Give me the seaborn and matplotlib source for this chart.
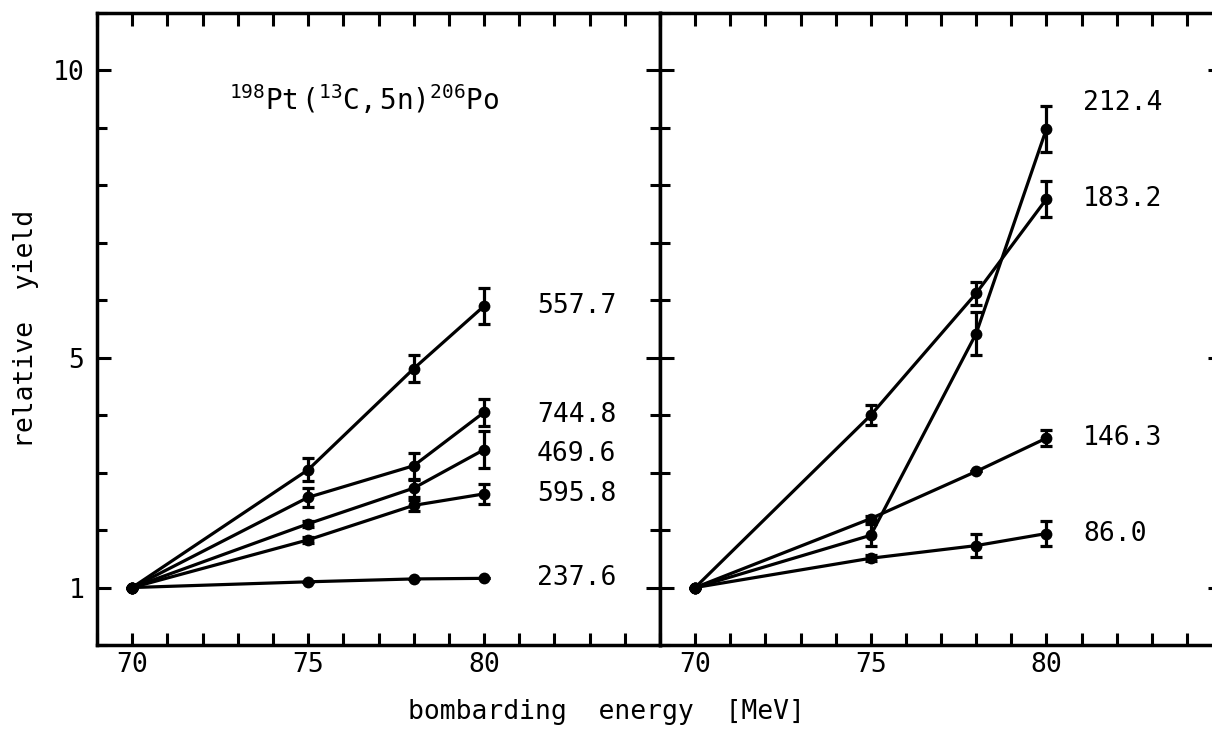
import matplotlib
matplotlib.use("Agg")
import matplotlib.pyplot as plt
import seaborn as sns
import pandas as pd
from matplotlib.ticker import MultipleLocator, FixedLocator

# ---- data ----
energies = [70, 75, 78, 80]

left_labels = ["557.7", "744.8", "469.6", "595.8", "237.6"]
left_values = [
    [1.00, 3.05, 4.81, 5.90],
    [1.00, 2.57, 3.12, 4.05],
    [1.00, 2.11, 2.73, 3.40],
    [1.00, 1.83, 2.43, 2.63],
    [1.00, 1.10, 1.15, 1.16],
]
left_errors = [
    [0.0, 0.20, 0.23, 0.32],
    [0.0, 0.16, 0.23, 0.23],
    [0.0, 0.05, 0.15, 0.32],
    [0.0, 0.05, 0.10, 0.17],
    [0.0, 0.00, 0.00, 0.00],
]

right_labels = ["212.4", "183.2", "146.3", "86.0"]
right_values = [
    [1.00, 1.91, 5.42, 8.98],
    [1.00, 4.00, 6.12, 7.76],
    [1.00, 2.20, 3.02, 3.60],
    [1.00, 1.51, 1.73, 1.94],
]
right_errors = [
    [0.0, 0.19, 0.37, 0.40],
    [0.0, 0.17, 0.20, 0.31],
    [0.0, 0.05, 0.00, 0.14],
    [0.0, 0.05, 0.20, 0.22],
]

y_ticks = [1, 5, 10]
x_ticks = [70, 75, 80]
reaction = r"$^{198}\mathrm{Pt}\,(^{13}\mathrm{C,5n})^{206}\mathrm{Po}$"


def to_frame(labels, values, errors):
    rows = []
    for lab, vals, errs in zip(labels, values, errors):
        for e, v, s in zip(energies, vals, errs):
            rows.append({"line": lab, "energy": e, "yield": v, "err": s})
    return pd.DataFrame(rows)


df_left = to_frame(left_labels, left_values, left_errors)
df_right = to_frame(right_labels, right_values, right_errors)

sns.set_theme(style="ticks")
plt.rcParams["font.family"] = ["DejaVu Sans Mono", "DejaVu Sans"]
plt.rcParams["mathtext.fontset"] = "custom"
plt.rcParams["mathtext.rm"] = "DejaVu Sans Mono"
plt.rcParams["mathtext.it"] = "DejaVu Sans Mono"
plt.rcParams["text.color"] = "black"
plt.rcParams["axes.labelcolor"] = "black"

W, H = 1212, 741
fig = plt.figure(figsize=(W / 100, H / 100), dpi=100)
bottom = (H - 645) / H
height = (645 - 13) / H
ax1 = fig.add_axes([97 / W, bottom, (660 - 97) / W, height])
ax2 = fig.add_axes([660 / W, bottom, (1222 - 660) / W, height])

FS = 19
LW = 2.3


def draw(ax, df, labels, label_dx, label_dy):
    pal = {lab: "black" for lab in labels}
    sns.lineplot(data=df, x="energy", y="yield", hue="line", palette=pal,
                 marker="o", markersize=8.5, markeredgewidth=0, linewidth=LW,
                 legend=False, ax=ax, errorbar=None, sort=False)
    for lab in labels:
        sub = df[df["line"] == lab]
        ax.errorbar(sub["energy"], sub["yield"], yerr=sub["err"], fmt="none",
                    ecolor="black", elinewidth=2.3, capsize=4, capthick=2.3)
        last = sub.iloc[-1]
        ax.text(last["energy"] + label_dx, last["yield"] + label_dy.get(lab, 0.0),
                lab, fontsize=FS, ha="left", va="center", color="black")
    ax.set_xlim(69, 85)
    ax.set_ylim(0, 11)
    ax.xaxis.set_major_locator(FixedLocator(x_ticks))
    ax.xaxis.set_minor_locator(MultipleLocator(1))
    ax.yaxis.set_major_locator(FixedLocator(y_ticks))
    ax.yaxis.set_minor_locator(MultipleLocator(1))
    ax.tick_params(axis="both", which="both", direction="in", top=True, right=True,
                   width=2.2, color="black", labelsize=FS, labelcolor="black")
    ax.tick_params(axis="x", which="both", length=9)
    ax.tick_params(axis="y", which="major", length=10, pad=9)
    ax.tick_params(axis="y", which="minor", length=7)
    ax.tick_params(axis="x", which="major", pad=5)
    for s in ax.spines.values():
        s.set_linewidth(2.5)
        s.set_color("black")
    ax.set_xlabel("")
    ax.set_ylabel("")
    ax.set_facecolor("white")


draw(ax1, df_left, left_labels, 1.5, {"744.8": -0.05, "469.6": -0.08})
draw(ax2, df_right, right_labels, 1.05, {"212.4": 0.45})

ax1.set_yticklabels([str(t) for t in y_ticks])
ax2.set_yticklabels([])
ax1.set_ylabel("relative  yield", fontsize=FS, labelpad=10, color="black")
ax1.text(76.6, 9.5, reaction, fontsize=20, ha="center", va="center", color="black")

fig.text(0.5, 1 - 712 / H, "bombarding  energy  [MeV]", fontsize=FS,
         ha="center", va="center", color="black")

fig.savefig("out.png", dpi=100, facecolor="white")
